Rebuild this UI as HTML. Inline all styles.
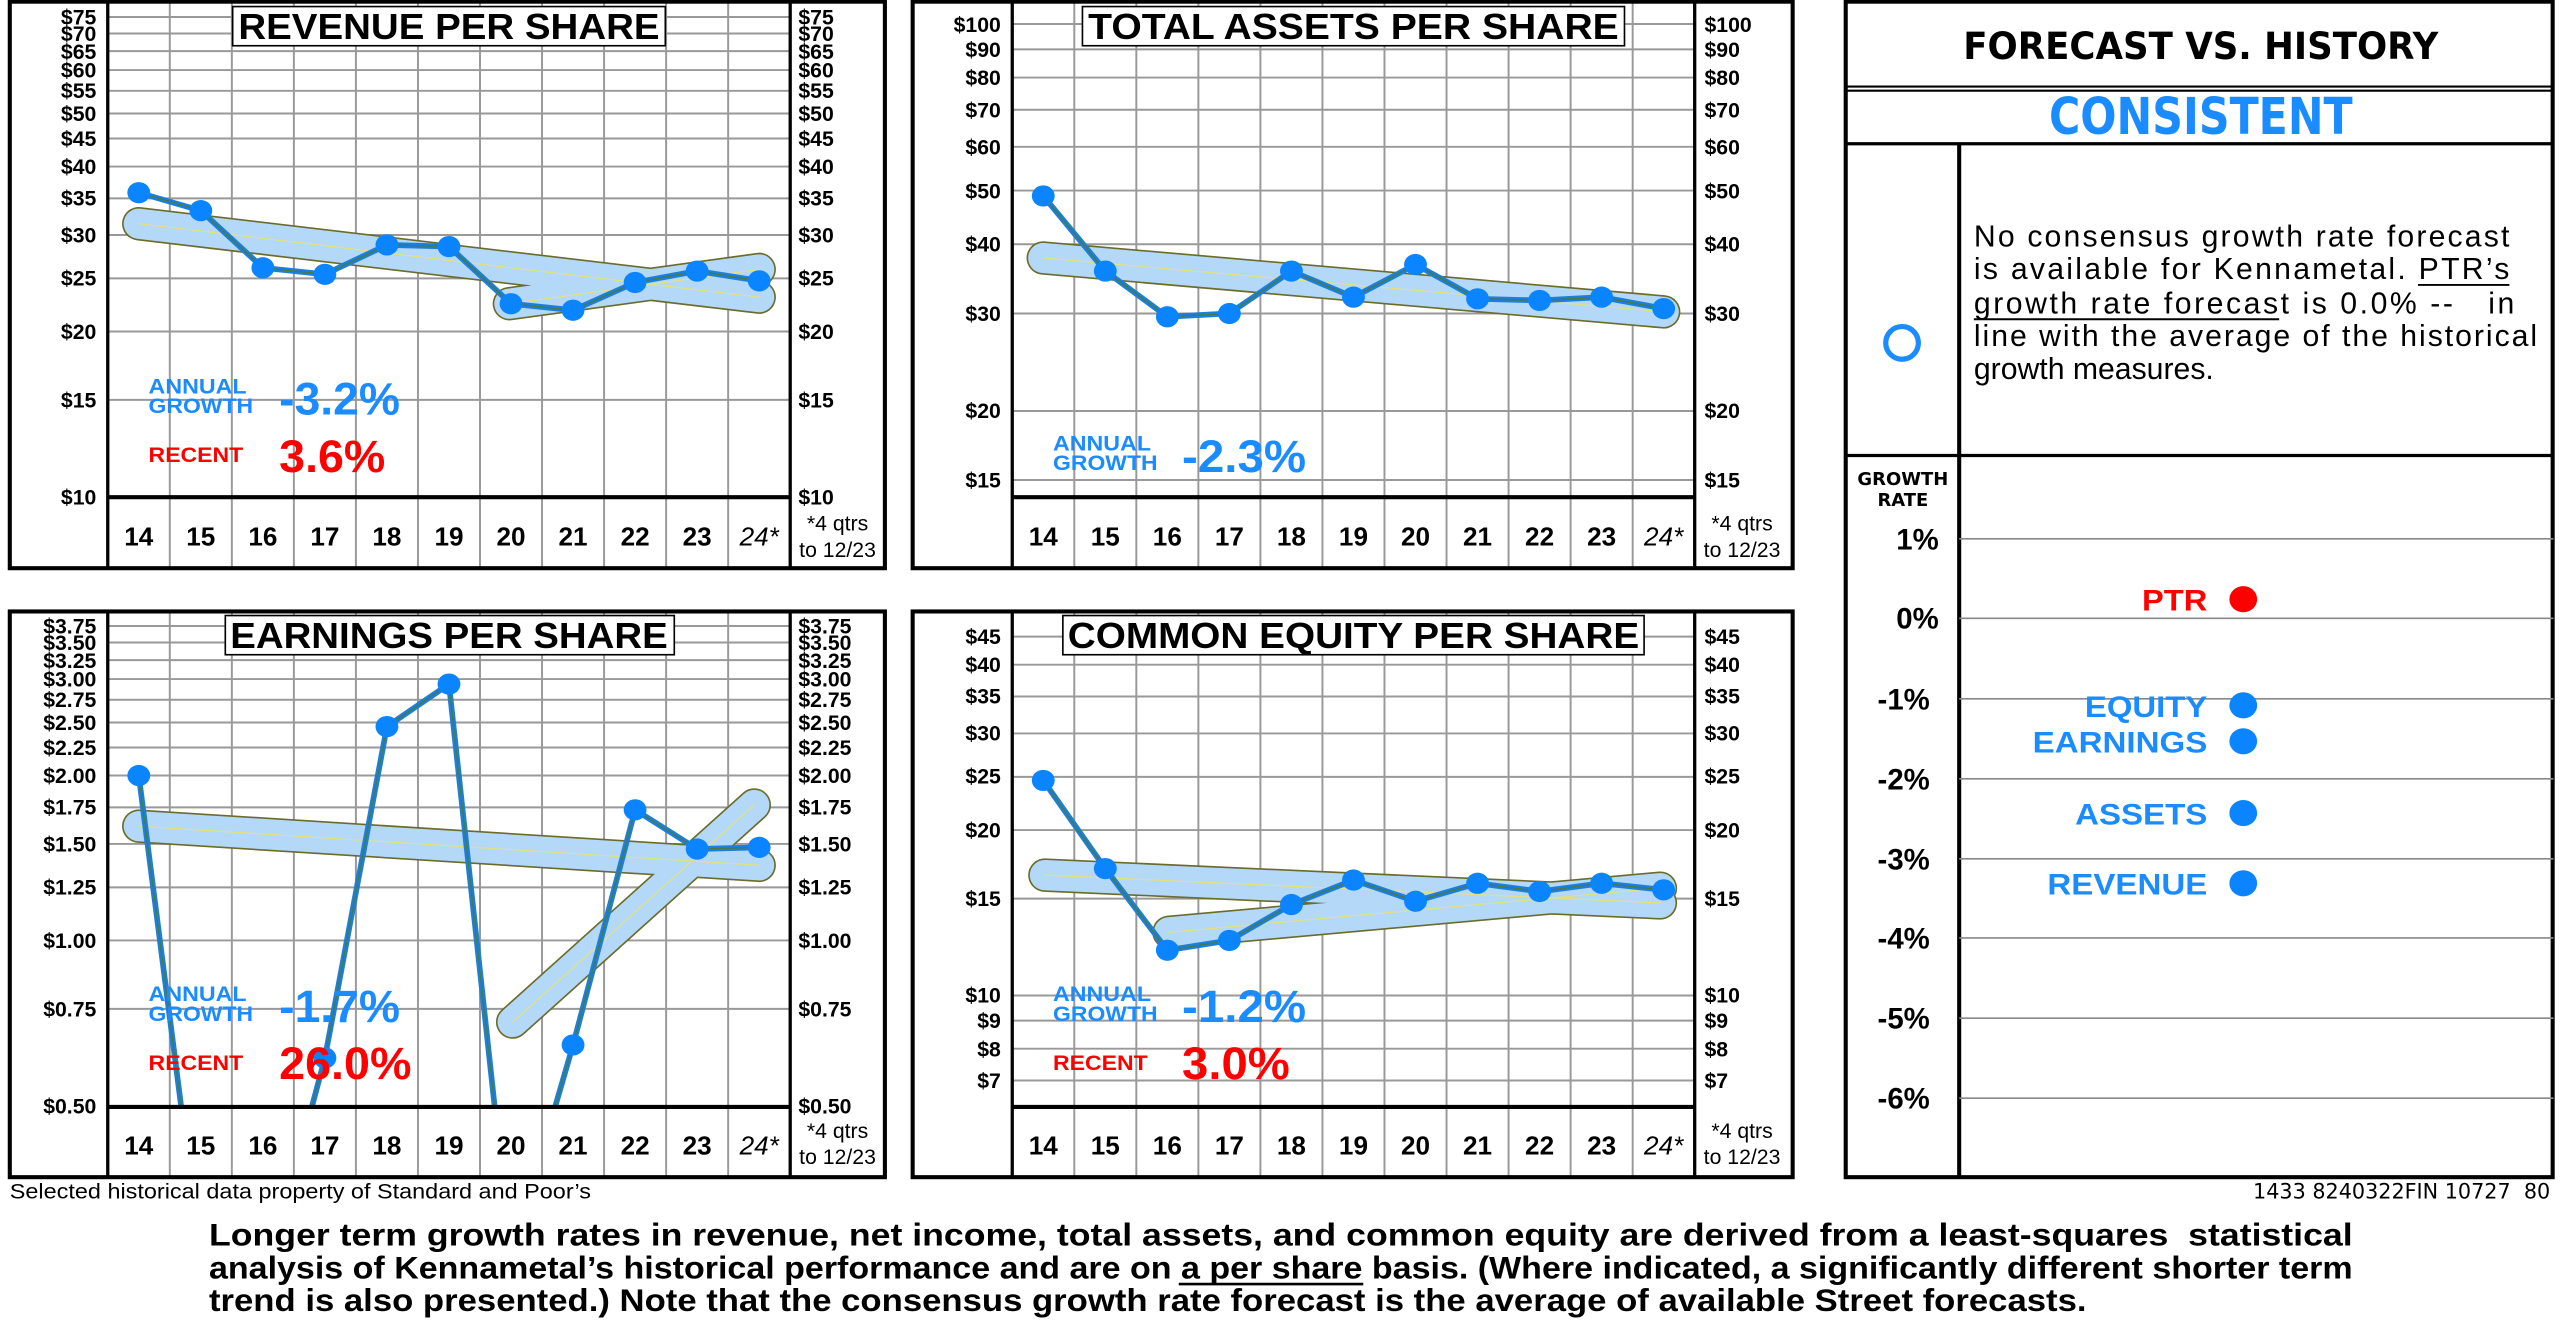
<!DOCTYPE html>
<html><head><meta charset="utf-8"><style>
html,body{margin:0;padding:0;background:#fff;}
svg{display:block;}
text{font-family:"Liberation Sans",sans-serif;white-space:pre;}
.tk{font-size:13px;font-weight:bold;fill:#000;}
.yr{font-size:16px;font-weight:bold;text-anchor:middle;}
.w{font-family:"DejaVu Sans","Liberation Sans",sans-serif;}
</style></head><body>
<svg width="2560" height="1331" viewBox="0 0 1568 815.2" xmlns="http://www.w3.org/2000/svg" xml:space="preserve">
<rect x="0" y="0" width="1568" height="815.2" fill="#fff"/>

<!-- ===== PANEL 1 REVENUE ===== -->
<g>
<path d="M104 2V348M142 2V348M180 2V348M218 2V348M256 2V348M294 2V348M332 2V348M370 2V348M408 2V348M446 2V348" stroke="#999" stroke-width="1.2" fill="none"/>
<path d="M66 10.4H484M66 20.5H484M66 31.3H484M66 42.9H484M66 55.6H484M66 69.5H484M66 84.8H484M66 102H484M66 121.5H484M66 143.9H484M66 170.5H484M66 203H484M66 244.9H484" stroke="#999" stroke-width="1.2" fill="none"/>
<path d="M66 0V348M484 0V348" stroke="#000" stroke-width="2"/>
<path d="M66 304.5H484" stroke="#000" stroke-width="2.5"/>
<rect x="6" y="1" width="536" height="347" fill="none" stroke="#000" stroke-width="2.5"/>
<g stroke-linecap="round" fill="none">
<path d="M85 137L465 182M312 186L465 165" stroke="#6b6b2a" stroke-width="20.5"/>
<path d="M85 137L465 182M312 186L465 165" stroke="#b4d8f8" stroke-width="18.5"/>
<path d="M85 137L465 182M312 186L465 165" stroke="#e3e37a" stroke-width="0.7"/>
</g>
<polyline points="85,118 123,129 161,164 199,168 237,150 275,151 313,186 351,190 389,173 427,166 465,172" fill="none" stroke="#1a7fe0" stroke-width="3.5"/>
<polyline points="85,118 123,129 161,164 199,168 237,150 275,151 313,186 351,190 389,173 427,166 465,172" fill="none" stroke="#4a7a40" stroke-width="0.8"/>
<g fill="#0a84ff"><ellipse cx="85" cy="118" rx="7" ry="6.5"/><ellipse cx="123" cy="129" rx="7" ry="6.5"/><ellipse cx="161" cy="164" rx="7" ry="6.5"/><ellipse cx="199" cy="168" rx="7" ry="6.5"/><ellipse cx="237" cy="150" rx="7" ry="6.5"/><ellipse cx="275" cy="151" rx="7" ry="6.5"/><ellipse cx="313" cy="186" rx="7" ry="6.5"/><ellipse cx="351" cy="190" rx="7" ry="6.5"/><ellipse cx="389" cy="173" rx="7" ry="6.5"/><ellipse cx="427" cy="166" rx="7" ry="6.5"/><ellipse cx="465" cy="172" rx="7" ry="6.5"/></g>
<rect x="142.5" y="4" width="265" height="24" fill="#fff" stroke="#000" stroke-width="1"/>
<text x="275" y="24" font-size="22" font-weight="bold" text-anchor="middle" textLength="258" lengthAdjust="spacingAndGlyphs">REVENUE PER SHARE</text>
<g class="tk" text-anchor="end">
<text x="59" y="15">$75</text><text x="59" y="25">$70</text><text x="59" y="36">$65</text><text x="59" y="47.5">$60</text><text x="59" y="60">$55</text><text x="59" y="74">$50</text><text x="59" y="89.5">$45</text><text x="59" y="106.5">$40</text><text x="59" y="126">$35</text><text x="59" y="148.5">$30</text><text x="59" y="175">$25</text><text x="59" y="207.5">$20</text><text x="59" y="249.5">$15</text><text x="59" y="309">$10</text>
</g>
<g class="tk">
<text x="489" y="15">$75</text><text x="489" y="25">$70</text><text x="489" y="36">$65</text><text x="489" y="47.5">$60</text><text x="489" y="60">$55</text><text x="489" y="74">$50</text><text x="489" y="89.5">$45</text><text x="489" y="106.5">$40</text><text x="489" y="126">$35</text><text x="489" y="148.5">$30</text><text x="489" y="175">$25</text><text x="489" y="207.5">$20</text><text x="489" y="249.5">$15</text><text x="489" y="309">$10</text>
</g>
<g class="yr"><text x="85" y="334">14</text><text x="123" y="334">15</text><text x="161" y="334">16</text><text x="199" y="334">17</text><text x="237" y="334">18</text><text x="275" y="334">19</text><text x="313" y="334">20</text><text x="351" y="334">21</text><text x="389" y="334">22</text><text x="427" y="334">23</text><text x="465" y="334" font-weight="normal" font-style="italic">24*</text></g>
<text x="513" y="325" font-size="13" text-anchor="middle">*4 qtrs</text><text x="513" y="341" font-size="13" text-anchor="middle">to 12/23</text>
<text x="91" y="241" font-size="13" font-weight="bold" fill="#1a8cff" textLength="60" lengthAdjust="spacingAndGlyphs">ANNUAL</text>
<text x="91" y="253" font-size="13" font-weight="bold" fill="#1a8cff" textLength="64" lengthAdjust="spacingAndGlyphs">GROWTH</text>
<text x="171" y="254" font-size="28" font-weight="bold" fill="#1a8cff" textLength="74" lengthAdjust="spacingAndGlyphs">-3.2%</text>
<text x="91" y="283" font-size="13" font-weight="bold" fill="#ff0000" textLength="58" lengthAdjust="spacingAndGlyphs">RECENT</text>
<text x="171" y="289" font-size="28" font-weight="bold" fill="#ff0000" textLength="65" lengthAdjust="spacingAndGlyphs">3.6%</text>
</g>

<!-- ===== PANEL 2 ASSETS ===== -->
<g>
<path d="M658 2V348M696 2V348M734 2V348M772 2V348M810 2V348M848 2V348M886 2V348M924 2V348M962 2V348M1000 2V348" stroke="#999" stroke-width="1.2" fill="none"/>
<path d="M620 14.7H1038M620 30.2H1038M620 47.5H1038M620 67.2H1038M620 89.9H1038M620 116.7H1038M620 149.6H1038M620 192H1038M620 251.7H1038M620 294H1038" stroke="#999" stroke-width="1.2" fill="none"/>
<path d="M620 0V348M1038 0V348" stroke="#000" stroke-width="2"/>
<path d="M620 304.5H1038" stroke="#000" stroke-width="2.5"/>
<rect x="559" y="1" width="539" height="347" fill="none" stroke="#000" stroke-width="2.5"/>
<g stroke-linecap="round" fill="none">
<path d="M639 158L1019 191" stroke="#6b6b2a" stroke-width="20.5"/>
<path d="M639 158L1019 191" stroke="#b4d8f8" stroke-width="18.5"/>
<path d="M639 158L1019 191" stroke="#e3e37a" stroke-width="0.7"/>
</g>
<polyline points="639,120 677,166 715,194 753,192 791,166 829,182 867,162 905,183 943,184 981,182 1019,189" fill="none" stroke="#1a7fe0" stroke-width="3.5"/>
<polyline points="639,120 677,166 715,194 753,192 791,166 829,182 867,162 905,183 943,184 981,182 1019,189" fill="none" stroke="#4a7a40" stroke-width="0.8"/>
<g fill="#0a84ff"><ellipse cx="639" cy="120" rx="7" ry="6.5"/><ellipse cx="677" cy="166" rx="7" ry="6.5"/><ellipse cx="715" cy="194" rx="7" ry="6.5"/><ellipse cx="753" cy="192" rx="7" ry="6.5"/><ellipse cx="791" cy="166" rx="7" ry="6.5"/><ellipse cx="829" cy="182" rx="7" ry="6.5"/><ellipse cx="867" cy="162" rx="7" ry="6.5"/><ellipse cx="905" cy="183" rx="7" ry="6.5"/><ellipse cx="943" cy="184" rx="7" ry="6.5"/><ellipse cx="981" cy="182" rx="7" ry="6.5"/><ellipse cx="1019" cy="189" rx="7" ry="6.5"/></g>
<rect x="663" y="4" width="332" height="24" fill="#fff" stroke="#000" stroke-width="1"/>
<text x="829" y="24" font-size="22" font-weight="bold" text-anchor="middle" textLength="325" lengthAdjust="spacingAndGlyphs">TOTAL ASSETS PER SHARE</text>
<g class="tk" text-anchor="end">
<text x="613" y="19.5">$100</text><text x="613" y="35">$90</text><text x="613" y="52">$80</text><text x="613" y="72">$70</text><text x="613" y="94.5">$60</text><text x="613" y="121.5">$50</text><text x="613" y="154">$40</text><text x="613" y="196.5">$30</text><text x="613" y="256">$20</text><text x="613" y="298.5">$15</text>
</g>
<g class="tk">
<text x="1044" y="19.5">$100</text><text x="1044" y="35">$90</text><text x="1044" y="52">$80</text><text x="1044" y="72">$70</text><text x="1044" y="94.5">$60</text><text x="1044" y="121.5">$50</text><text x="1044" y="154">$40</text><text x="1044" y="196.5">$30</text><text x="1044" y="256">$20</text><text x="1044" y="298.5">$15</text>
</g>
<g class="yr"><text x="639" y="334">14</text><text x="677" y="334">15</text><text x="715" y="334">16</text><text x="753" y="334">17</text><text x="791" y="334">18</text><text x="829" y="334">19</text><text x="867" y="334">20</text><text x="905" y="334">21</text><text x="943" y="334">22</text><text x="981" y="334">23</text><text x="1019" y="334" font-weight="normal" font-style="italic">24*</text></g>
<text x="1067" y="325" font-size="13" text-anchor="middle">*4 qtrs</text><text x="1067" y="341" font-size="13" text-anchor="middle">to 12/23</text>
<text x="645" y="276" font-size="13" font-weight="bold" fill="#1a8cff" textLength="60" lengthAdjust="spacingAndGlyphs">ANNUAL</text>
<text x="645" y="288" font-size="13" font-weight="bold" fill="#1a8cff" textLength="64" lengthAdjust="spacingAndGlyphs">GROWTH</text>
<text x="724" y="289" font-size="28" font-weight="bold" fill="#1a8cff" textLength="76" lengthAdjust="spacingAndGlyphs">-2.3%</text>
</g>

<!-- ===== PANEL 3 EARNINGS ===== -->
<g>
<path d="M104 374V721M142 374V721M180 374V721M218 374V721M256 374V721M294 374V721M332 374V721M370 374V721M408 374V721M446 374V721" stroke="#999" stroke-width="1.2" fill="none"/>
<path d="M66 383.4H484M66 393.5H484M66 404.3H484M66 415.9H484M66 428.6H484M66 442.5H484M66 457.8H484M66 475H484M66 494.5H484M66 516.9H484M66 543.5H484M66 576H484M66 617.9H484" stroke="#999" stroke-width="1.2" fill="none"/>
<path d="M66 374V721M484 374V721" stroke="#000" stroke-width="2"/>
<rect x="6" y="374.5" width="536" height="346.5" fill="none" stroke="#000" stroke-width="2.5"/>
<g stroke-linecap="round" fill="none">
<path d="M85 506L465 530M314 626L462 493" stroke="#6b6b2a" stroke-width="20.5"/>
<path d="M85 506L465 530M314 626L462 493" stroke="#b4d8f8" stroke-width="18.5"/>
<path d="M85 506L465 530M314 626L462 493" stroke="#e3e37a" stroke-width="0.7"/>
</g>
<path d="M85 475L111 678M191 678L199 648L237 445L275 419L303 678M340 678L351 640L389 496L427 520L465 519" fill="none" stroke="#1a7fe0" stroke-width="3.5"/>
<path d="M85 475L111 678M191 678L199 648L237 445L275 419L303 678M340 678L351 640L389 496L427 520L465 519" fill="none" stroke="#4a7a40" stroke-width="0.8"/>
<g fill="#0a84ff"><ellipse cx="85" cy="475" rx="7" ry="6.5"/><ellipse cx="199" cy="648" rx="7" ry="6.5"/><ellipse cx="237" cy="445" rx="7" ry="6.5"/><ellipse cx="275" cy="419" rx="7" ry="6.5"/><ellipse cx="351" cy="640" rx="7" ry="6.5"/><ellipse cx="389" cy="496" rx="7" ry="6.5"/><ellipse cx="427" cy="520" rx="7" ry="6.5"/><ellipse cx="465" cy="519" rx="7" ry="6.5"/></g>
<path d="M66 678H484" stroke="#000" stroke-width="2.5"/>
<rect x="138" y="377" width="275" height="24" fill="#fff" stroke="#000" stroke-width="1"/>
<text x="275" y="397" font-size="22" font-weight="bold" text-anchor="middle" textLength="268" lengthAdjust="spacingAndGlyphs">EARNINGS PER SHARE</text>
<g class="tk" text-anchor="end">
<text x="59" y="388">$3.75</text><text x="59" y="398">$3.50</text><text x="59" y="409">$3.25</text><text x="59" y="420.5">$3.00</text><text x="59" y="433">$2.75</text><text x="59" y="447">$2.50</text><text x="59" y="462.5">$2.25</text><text x="59" y="479.5">$2.00</text><text x="59" y="499">$1.75</text><text x="59" y="521.5">$1.50</text><text x="59" y="548">$1.25</text><text x="59" y="580.5">$1.00</text><text x="59" y="622.5">$0.75</text><text x="59" y="682">$0.50</text>
</g>
<g class="tk">
<text x="489" y="388">$3.75</text><text x="489" y="398">$3.50</text><text x="489" y="409">$3.25</text><text x="489" y="420.5">$3.00</text><text x="489" y="433">$2.75</text><text x="489" y="447">$2.50</text><text x="489" y="462.5">$2.25</text><text x="489" y="479.5">$2.00</text><text x="489" y="499">$1.75</text><text x="489" y="521.5">$1.50</text><text x="489" y="548">$1.25</text><text x="489" y="580.5">$1.00</text><text x="489" y="622.5">$0.75</text><text x="489" y="682">$0.50</text>
</g>
<g class="yr"><text x="85" y="707">14</text><text x="123" y="707">15</text><text x="161" y="707">16</text><text x="199" y="707">17</text><text x="237" y="707">18</text><text x="275" y="707">19</text><text x="313" y="707">20</text><text x="351" y="707">21</text><text x="389" y="707">22</text><text x="427" y="707">23</text><text x="465" y="707" font-weight="normal" font-style="italic">24*</text></g>
<text x="513" y="697" font-size="13" text-anchor="middle">*4 qtrs</text><text x="513" y="713" font-size="13" text-anchor="middle">to 12/23</text>
<text x="91" y="613" font-size="13" font-weight="bold" fill="#1a8cff" textLength="60" lengthAdjust="spacingAndGlyphs">ANNUAL</text>
<text x="91" y="625.5" font-size="13" font-weight="bold" fill="#1a8cff" textLength="64" lengthAdjust="spacingAndGlyphs">GROWTH</text>
<text x="171" y="626" font-size="28" font-weight="bold" fill="#1a8cff" textLength="74" lengthAdjust="spacingAndGlyphs">-1.7%</text>
<text x="91" y="655.5" font-size="13" font-weight="bold" fill="#ff0000" textLength="58" lengthAdjust="spacingAndGlyphs">RECENT</text>
<text x="171" y="661" font-size="28" font-weight="bold" fill="#ff0000" textLength="81" lengthAdjust="spacingAndGlyphs">26.0%</text>
</g>

<!-- ===== PANEL 4 EQUITY ===== -->
<g>
<path d="M658 374V721M696 374V721M734 374V721M772 374V721M810 374V721M848 374V721M886 374V721M924 374V721M962 374V721M1000 374V721" stroke="#999" stroke-width="1.2" fill="none"/>
<path d="M620 389.9H1038M620 407.1H1038M620 426.6H1038M620 449.2H1038M620 475.8H1038M620 508.4H1038M620 550.4H1038M620 609.7H1038M620 625.1H1038M620 642.3H1038M620 661.8H1038" stroke="#999" stroke-width="1.2" fill="none"/>
<path d="M620 374V721M1038 374V721" stroke="#000" stroke-width="2"/>
<path d="M620 678H1038" stroke="#000" stroke-width="2.5"/>
<rect x="559" y="374.5" width="539" height="346.5" fill="none" stroke="#000" stroke-width="2.5"/>
<g stroke-linecap="round" fill="none">
<path d="M640 536L1017 553M716 571L1017 544" stroke="#6b6b2a" stroke-width="20.5"/>
<path d="M640 536L1017 553M716 571L1017 544" stroke="#b4d8f8" stroke-width="18.5"/>
<path d="M640 536L1017 553M716 571L1017 544" stroke="#e3e37a" stroke-width="0.7"/>
</g>
<polyline points="639,478 677,532 715,582 753,576 791,554 829,539 867,552 905,541 943,546 981,541 1019,545" fill="none" stroke="#1a7fe0" stroke-width="3.5"/>
<polyline points="639,478 677,532 715,582 753,576 791,554 829,539 867,552 905,541 943,546 981,541 1019,545" fill="none" stroke="#4a7a40" stroke-width="0.8"/>
<g fill="#0a84ff"><ellipse cx="639" cy="478" rx="7" ry="6.5"/><ellipse cx="677" cy="532" rx="7" ry="6.5"/><ellipse cx="715" cy="582" rx="7" ry="6.5"/><ellipse cx="753" cy="576" rx="7" ry="6.5"/><ellipse cx="791" cy="554" rx="7" ry="6.5"/><ellipse cx="829" cy="539" rx="7" ry="6.5"/><ellipse cx="867" cy="552" rx="7" ry="6.5"/><ellipse cx="905" cy="541" rx="7" ry="6.5"/><ellipse cx="943" cy="546" rx="7" ry="6.5"/><ellipse cx="981" cy="541" rx="7" ry="6.5"/><ellipse cx="1019" cy="545" rx="7" ry="6.5"/></g>
<rect x="651" y="377" width="356" height="24" fill="#fff" stroke="#000" stroke-width="1"/>
<text x="829" y="397" font-size="22" font-weight="bold" text-anchor="middle" textLength="350" lengthAdjust="spacingAndGlyphs">COMMON EQUITY PER SHARE</text>
<g class="tk" text-anchor="end">
<text x="613" y="394.5">$45</text><text x="613" y="411.5">$40</text><text x="613" y="431">$35</text><text x="613" y="453.5">$30</text><text x="613" y="480">$25</text><text x="613" y="513">$20</text><text x="613" y="555">$15</text><text x="613" y="614">$10</text><text x="613" y="629.5">$9</text><text x="613" y="647">$8</text><text x="613" y="666.5">$7</text>
</g>
<g class="tk">
<text x="1044" y="394.5">$45</text><text x="1044" y="411.5">$40</text><text x="1044" y="431">$35</text><text x="1044" y="453.5">$30</text><text x="1044" y="480">$25</text><text x="1044" y="513">$20</text><text x="1044" y="555">$15</text><text x="1044" y="614">$10</text><text x="1044" y="629.5">$9</text><text x="1044" y="647">$8</text><text x="1044" y="666.5">$7</text>
</g>
<g class="yr"><text x="639" y="707">14</text><text x="677" y="707">15</text><text x="715" y="707">16</text><text x="753" y="707">17</text><text x="791" y="707">18</text><text x="829" y="707">19</text><text x="867" y="707">20</text><text x="905" y="707">21</text><text x="943" y="707">22</text><text x="981" y="707">23</text><text x="1019" y="707" font-weight="normal" font-style="italic">24*</text></g>
<text x="1067" y="697" font-size="13" text-anchor="middle">*4 qtrs</text><text x="1067" y="713" font-size="13" text-anchor="middle">to 12/23</text>
<text x="645" y="613" font-size="13" font-weight="bold" fill="#1a8cff" textLength="60" lengthAdjust="spacingAndGlyphs">ANNUAL</text>
<text x="645" y="625.5" font-size="13" font-weight="bold" fill="#1a8cff" textLength="64" lengthAdjust="spacingAndGlyphs">GROWTH</text>
<text x="724" y="626" font-size="28" font-weight="bold" fill="#1a8cff" textLength="76" lengthAdjust="spacingAndGlyphs">-1.2%</text>
<text x="645" y="655.5" font-size="13" font-weight="bold" fill="#ff0000" textLength="58" lengthAdjust="spacingAndGlyphs">RECENT</text>
<text x="724" y="661" font-size="28" font-weight="bold" fill="#ff0000" textLength="66" lengthAdjust="spacingAndGlyphs">3.0%</text>
</g>

<!-- ===== RIGHT PANEL ===== -->
<g>
<rect x="1130.5" y="1" width="433" height="720" fill="none" stroke="#000" stroke-width="2.5"/>
<path d="M1130 53H1564M1130 55.5H1564" stroke="#000" stroke-width="1.3"/>
<path d="M1130 88H1564M1130 279H1564" stroke="#000" stroke-width="2"/>
<path d="M1200 88V721" stroke="#000" stroke-width="2.5"/>
<text x="1348" y="36" font-size="23" font-weight="bold" text-anchor="middle" class="w" textLength="291" lengthAdjust="spacingAndGlyphs">FORECAST VS. HISTORY</text>
<text x="1348" y="82" font-size="31" font-weight="bold" text-anchor="middle" fill="#1a8cff" class="w" textLength="186" lengthAdjust="spacingAndGlyphs">CONSISTENT</text>
<circle cx="1165" cy="210" r="10" fill="none" stroke="#1a8cff" stroke-width="3.2"/>
<g class="w" font-size="18.5">
<text x="1209" y="151" textLength="328" lengthAdjust="spacing">No consensus growth rate forecast</text>
<text x="1209" y="171" textLength="328" lengthAdjust="spacing">is available for Kennametal. PTR’s</text>
<text x="1209" y="192" textLength="331" lengthAdjust="spacing">growth rate forecast is 0.0% --&#160;&#160;&#160;in</text>
<text x="1209" y="212" textLength="345" lengthAdjust="spacing">line with the average of the historical</text>
<text x="1209" y="232">growth measures.</text>
</g>
<path d="M1481 174.5H1537M1209 195.5H1396" stroke="#000" stroke-width="1.2"/>
<text x="1165.5" y="297" font-size="11" font-weight="bold" text-anchor="middle" class="w">GROWTH</text>
<text x="1165.5" y="310" font-size="11" font-weight="bold" text-anchor="middle" class="w">RATE</text>
<path d="M1200 330H1564M1200 378.7H1564M1200 428H1564M1200 477H1564M1200 526H1564M1200 574.5H1564M1200 623.6H1564M1200 672.6H1564" stroke="#888" stroke-width="1"/>
<g class="w" font-size="18" font-weight="bold" text-anchor="end">
<text x="1187.5" y="336.5">1%</text><text x="1187.5" y="385">0%</text><text x="1182" y="434.5">-1%</text><text x="1182" y="483.5">-2%</text><text x="1182" y="532.5">-3%</text><text x="1182" y="581">-4%</text><text x="1182" y="630">-5%</text><text x="1182" y="679">-6%</text>
</g>
<g class="w" font-size="18" font-weight="bold" text-anchor="end">
<text x="1352" y="374" fill="#ff0000" textLength="40" lengthAdjust="spacingAndGlyphs">PTR</text>
<text x="1352" y="439" fill="#1a8cff" textLength="75" lengthAdjust="spacingAndGlyphs">EQUITY</text>
<text x="1352" y="461" fill="#1a8cff" textLength="107" lengthAdjust="spacingAndGlyphs">EARNINGS</text>
<text x="1352" y="505" fill="#1a8cff" textLength="81" lengthAdjust="spacingAndGlyphs">ASSETS</text>
<text x="1352" y="548" fill="#1a8cff" textLength="98" lengthAdjust="spacingAndGlyphs">REVENUE</text>
</g>
<ellipse cx="1374" cy="367" rx="8.5" ry="8" fill="#ff0000"/>
<g fill="#0a84ff"><ellipse cx="1374" cy="432" rx="8.5" ry="8"/><ellipse cx="1374" cy="454" rx="8.5" ry="8"/><ellipse cx="1374" cy="498" rx="8.5" ry="8"/><ellipse cx="1374" cy="541" rx="8.5" ry="8"/></g>
</g>

<!-- ===== FOOTER ===== -->
<text x="6" y="734" font-size="13" textLength="356" lengthAdjust="spacingAndGlyphs">Selected historical data property of Standard and Poor’s</text>
<text x="1562" y="734" font-size="13" text-anchor="end" class="w" textLength="182" lengthAdjust="spacingAndGlyphs">1433 8240322FIN 10727&#160;&#160;80</text>
<g font-size="19.5" font-weight="bold">
<text x="128" y="763" textLength="1313" lengthAdjust="spacingAndGlyphs">Longer term growth rates in revenue, net income, total assets, and common equity are derived from a least-squares  statistical</text>
<text x="128" y="783" textLength="1313" lengthAdjust="spacingAndGlyphs">analysis of Kennametal’s historical performance and are on a per share basis. (Where indicated, a significantly different shorter term</text>
<text x="128" y="803" textLength="1150" lengthAdjust="spacingAndGlyphs">trend is also presented.) Note that the consensus growth rate forecast is the average of available Street forecasts.</text>
</g>
<path d="M722 786.5H835" stroke="#000" stroke-width="1.6"/>
</svg>
</body></html>
